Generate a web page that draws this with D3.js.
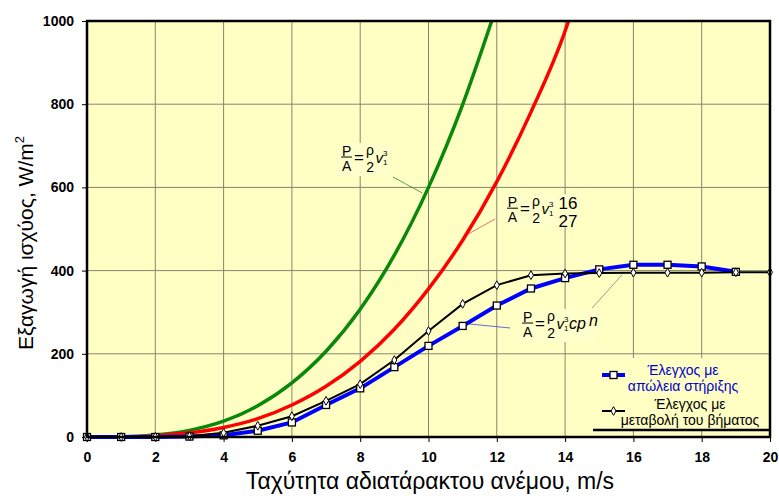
<!DOCTYPE html>
<html>
<head>
<meta charset="utf-8">
<script src="https://cdn.jsdelivr.net/npm/d3@7"></script>
<style>
  body { margin: 0; background: #fff; }
  text { font-family: Arial, "Liberation Sans", sans-serif; }
</style>
</head>
<body>
<script>
// wind speed (m/s) for the controlled turbines
var speeds = [0, 1, 2, 3, 4, 5, 6, 7, 8, 9, 10, 11, 12, 13, 14, 15, 16, 17, 18, 19, 20]
var pitchPower = [0, 0, 0.5, 2, 10, 27, 50, 87, 127, 185, 255, 320, 365, 389, 393, 394, 395, 395, 395, 396, 396]
var stallSpeeds = [0, 1, 2, 3, 4, 5, 6, 7, 8, 9, 10, 11, 12, 13, 14, 15, 16, 17, 18, 19]
var stallPower = [0, 0, 0, 1, 4, 15, 35, 77, 117, 168, 219, 267, 316, 357, 382, 403, 414, 414, 410, 397]

// power in the wind and Betz limit
var windSpeeds = [0, 1, 2, 3, 4, 5, 6, 7, 8, 9, 10, 11, 11.85]
var windPower = [0, 0.6, 5, 16, 38, 75, 130, 206, 307, 437, 600, 799, 1000]
var betzSpeeds = [0, 1, 2, 3, 4, 5, 6, 7, 8, 9, 10, 11, 12, 13, 14, 14.1]
var betzPower = [0, 0.4, 3, 10, 23, 44, 77, 122, 182, 259, 356, 473, 614, 781, 976, 1000]

var xTicks = [0, 2, 4, 6, 8, 10, 12, 14, 16, 18, 20]
var yTicks = [0, 200, 400, 600, 800, 1000]

var W = 779, H = 496
var margin = {top: 21, right: 9, bottom: 59, left: 87}
var w = W - margin.left - margin.right
var h = H - margin.top - margin.bottom

var svg = d3.select("body").append("svg").attr("width", W).attr("height", H)
var g = svg.append("g").attr("transform", "translate(" + margin.left + "," + margin.top + ")")

var x = d3.scaleLinear().domain([0, 20]).range([0, w])
var y = d3.scaleLinear().domain([0, 1000]).range([h, 0])

// plot background
g.append("rect").attr("width", w).attr("height", h).attr("fill", "#ffffc4")

// grid
g.selectAll(".gx").data(xTicks).enter().append("line")
  .attr("x1", d => x(d)).attr("x2", d => x(d)).attr("y1", 0).attr("y2", h)
  .attr("stroke", "#85856e").attr("stroke-width", 1)
g.selectAll(".gy").data(yTicks).enter().append("line")
  .attr("y1", d => y(d)).attr("y2", d => y(d)).attr("x1", 0).attr("x2", w)
  .attr("stroke", "#85856e").attr("stroke-width", 1)

// axes
var xAxis = g.append("g").attr("transform", "translate(0," + h + ")")
  .call(d3.axisBottom(x).tickValues(xTicks).tickSize(5).tickPadding(10))
var yAxis = g.append("g")
  .call(d3.axisLeft(y).tickValues(yTicks).tickFormat(d3.format("d")).tickSize(5).tickPadding(8))
;[xAxis, yAxis].forEach(function(a) {
  a.select(".domain").remove()
  a.selectAll(".tick line").attr("stroke", "#000")
  a.selectAll("text").attr("font-size", 14).attr("font-weight", "bold")
    .attr("font-family", "Arial, 'Liberation Sans', sans-serif").attr("fill", "#000")
})

// formula labels, background hides grid
function frac(x0, barY, extra) {
  var a = g.append("g").attr("transform", "translate(" + x(x0) + "," + y(barY) + ")")
  var bw = extra == "betz" ? 74 : extra == "cp" ? 76 : 52
  a.append("rect").attr("x", -3).attr("y", -14).attr("width", bw).attr("height", 33)
    .attr("fill", "#ffffcc")
  a.append("text").attr("x", 5.5).attr("y", -1.5).attr("text-anchor", "middle").attr("font-size", 14).text("P")
  a.append("line").attr("x1", 0).attr("x2", 11).attr("y1", 0).attr("y2", 0).attr("stroke", "#000").attr("stroke-width", 1)
  a.append("text").attr("x", 5.5).attr("y", 13.5).attr("text-anchor", "middle").attr("font-size", 14).text("A")
  a.append("text").attr("x", 18).attr("y", 6).attr("text-anchor", "middle").attr("font-size", 17).text("=")
  a.append("text").attr("x", 29).attr("y", -2).attr("text-anchor", "middle").attr("font-size", 14).text("ρ")
  a.append("text").attr("x", 29).attr("y", 14.5).attr("text-anchor", "middle").attr("font-size", 14).text("2")
  a.append("text").attr("x", 34.5).attr("y", 6).attr("font-size", 15).attr("font-style", "italic").text("v")
  a.append("text").attr("x", 42).attr("y", -1).attr("font-size", 8).text("3")
  a.append("text").attr("x", 42).attr("y", 8).attr("font-size", 8).text("1")
  if (extra == "betz") {
    a.append("text").attr("x", 61).attr("y", 1).attr("text-anchor", "middle").attr("font-size", 17).text("16")
    a.append("text").attr("x", 61).attr("y", 19).attr("text-anchor", "middle").attr("font-size", 17).text("27")
  }
  if (extra == "cp") {
    a.append("text").attr("x", 47).attr("y", 6).attr("font-size", 16).attr("font-style", "italic").text("c")
    a.append("text").attr("x", 55).attr("y", 6).attr("font-size", 16).attr("font-style", "italic").text("p")
    a.append("text").attr("x", 67).attr("y", 3).attr("font-size", 16).attr("font-style", "italic").text("n")
  }
}

function leader(x1, y1, x2, y2, color) {
  g.append("line").attr("x1", x(x1)).attr("y1", y(y1)).attr("x2", x(x2)).attr("y2", y(y2))
    .attr("stroke", color).attr("stroke-width", 0.8)
}

frac(7.44, 673, "")
frac(12.30, 550, "betz")
frac(12.74, 274, "cp")
leader(8.96, 625, 9.81, 587, "#2e8b2e")
leader(11.95, 524, 11.01, 481, "#e05050")
leader(11.16, 272, 12.39, 262, "#4040e0")
leader(15.67, 390, 14.79, 310, "#808080")

// curves
g.append("clipPath").attr("id", "clip").append("rect").attr("x", -5).attr("y", 0).attr("width", w + 10).attr("height", h + 10)

var smooth = d3.line().curve(d3.curveMonotoneX).x(d => x(d[0])).y(d => y(d[1]))
var straight = d3.line().x(d => x(d[0])).y(d => y(d[1]))

g.append("path").attr("d", smooth(d3.zip(windSpeeds, windPower)))
  .attr("fill", "none").attr("stroke", "#0a880a").attr("stroke-width", 3.5).attr("clip-path", "url(#clip)")
g.append("path").attr("d", smooth(d3.zip(betzSpeeds, betzPower)))
  .attr("fill", "none").attr("stroke", "#ff0000").attr("stroke-width", 3.5).attr("clip-path", "url(#clip)")

var stall = d3.zip(stallSpeeds, stallPower)
var pitch = d3.zip(speeds, pitchPower)

g.append("path").attr("d", straight(stall))
  .attr("fill", "none").attr("stroke", "#0000ff").attr("stroke-width", 4)
g.append("path").attr("d", straight(pitch))
  .attr("fill", "none").attr("stroke", "#000").attr("stroke-width", 2)

g.selectAll(".sq").data(stall).enter().append("rect")
  .attr("x", d => x(d[0]) - 3.5).attr("y", d => y(d[1]) - 3.5)
  .attr("width", 7).attr("height", 7)
  .attr("fill", "#fff").attr("stroke", "#000").attr("stroke-width", 1.3)
g.selectAll(".dm").data(pitch).enter().append("path")
  .attr("transform", d => "translate(" + x(d[0]) + "," + y(d[1]) + ")")
  .attr("d", d3.symbol().type(d3.symbolDiamond).size(22))
  .attr("fill", "#fff").attr("stroke", "#000").attr("stroke-width", 1)

// legend
var lg = g.append("g").attr("transform", "translate(" + (w - 177) + "," + (h - 79) + ")")
lg.append("rect").attr("width", 177).attr("height", 72).attr("fill", "#ffffc4")
lg.append("line").attr("x1", 0).attr("x2", 177).attr("y1", 72).attr("y2", 72).attr("stroke", "#000").attr("stroke-width", 2.5)
lg.append("line").attr("x1", 9).attr("x2", 32).attr("y1", 17).attr("y2", 17).attr("stroke", "#0000ff").attr("stroke-width", 4)
lg.append("rect").attr("x", 17).attr("y", 13.5).attr("width", 7).attr("height", 7)
  .attr("fill", "#fff").attr("stroke", "#000").attr("stroke-width", 1.3)
lg.append("line").attr("x1", 9).attr("x2", 32).attr("y1", 53).attr("y2", 53).attr("stroke", "#000").attr("stroke-width", 2)
lg.append("path").attr("transform", "translate(20.5,53)")
  .attr("d", d3.symbol().type(d3.symbolDiamond).size(22))
  .attr("fill", "#fff").attr("stroke", "#000").attr("stroke-width", 1)
var legendText = [
  {t: "Έλεγχος με", x: 90, y: 17, c: "#0000cc"},
  {t: "απώλεια στήριξης", x: 90, y: 33, c: "#0000cc"},
  {t: "Έλεγχος με", x: 97, y: 51, c: "#000"},
  {t: "μεταβολή του βήματος", x: 97, y: 67, c: "#000"}
]
lg.selectAll(".lt").data(legendText).enter().append("text")
  .attr("x", d => d.x).attr("y", d => d.y).attr("text-anchor", "middle")
  .attr("font-size", 14).attr("fill", d => d.c).text(d => d.t)

// frame
g.append("rect").attr("width", w).attr("height", h).attr("fill", "none").attr("stroke", "#000").attr("stroke-width", 2.5)

// axis titles
svg.append("text").attr("x", 430).attr("y", 489).attr("text-anchor", "middle")
  .attr("font-size", 23).text("Ταχύτητα αδιατάρακτου ανέμου, m/s")
var yt = svg.append("text").attr("transform", "translate(33," + (margin.top + h / 2 + 14) + ") rotate(-90)")
  .attr("text-anchor", "middle").attr("font-size", 21)
yt.append("tspan").text("Εξαγωγή ισχύος, W/m")
yt.append("tspan").attr("font-size", 13).attr("dy", -9).text("2")
</script>
</body>
</html>
